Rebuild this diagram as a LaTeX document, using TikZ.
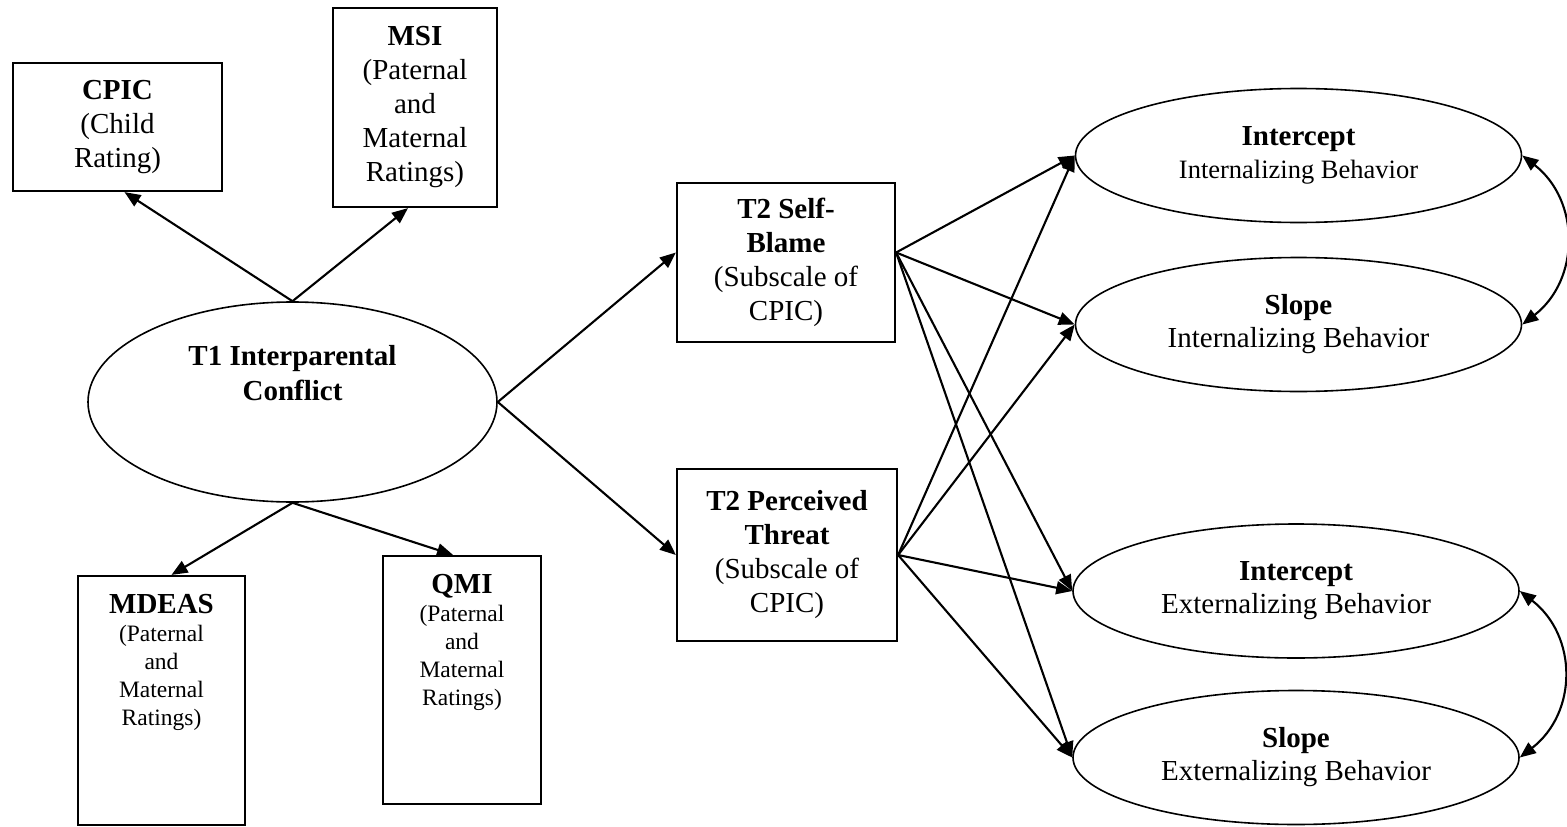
\documentclass[tikz,border=0pt]{standalone}
\usepackage{fontspec}
\setmainfont{Liberation Serif}
\usetikzlibrary{shapes.geometric, arrows.meta, positioning}
\tikzstyle{diagram} = [x = 1pt, y = -1pt]
\tikzstyle{measureBox} = [draw, line width = 2.2pt, inner sep = 0pt, align = center, font = \fontsize{29}{34}\selectfont]
\tikzstyle{tallBox} = [draw, line width = 2.2pt, inner sep = 0pt]
\tikzstyle{latentEllipse} = [draw, ellipse, line width = 1.6pt, inner sep = 0pt, minimum width = 446pt, minimum height = 134pt, align = center, font = \fontsize{29}{33}\selectfont]
\tikzstyle{pathArrow} = [-{Triangle[length = 16pt, width = 13pt]}, line width = 2.1pt]
\tikzstyle{covArrow} = [{Triangle[length = 16pt, width = 13pt]}-{Triangle[length = 16pt, width = 13pt]}, line width = 2.1pt]
\newcommand{\ratingBox}[3]{\parbox[c][#2][t]{#3}{\centering\fontsize{23.5}{28}\selectfont\rule{0pt}{37pt}{\fontsize{29}{28}\selectfont\bfseries #1}\\(Paternal\\and\\Maternal\\Ratings)}}

\begin{document}
\begin{tikzpicture}[diagram]
  \useasboundingbox (0,0) rectangle (1567,827);
  \node [measureBox, minimum width = 209pt, minimum height = 128pt] (cpic) at (117.5,127) {\textbf{CPIC}\\(Child\\Rating)};
  \node [measureBox, minimum width = 164pt, minimum height = 199pt] (msi) at (415,107.5) {\textbf{MSI}\\(Paternal\\and\\Maternal\\Ratings)};
  \node [tallBox] (mdeas) at (161.5,700.5) {\ratingBox{MDEAS}{249pt}{167pt}};
  \node [tallBox] (qmi) at (462,680) {\ratingBox{QMI}{248pt}{158pt}};
  \node [latentEllipse, minimum width = 409pt, minimum height = 200pt] (conflict) at (292.5,402) {};
  \node [font = \fontsize{29}{35}\selectfont\bfseries, align = center] (conflictText) at ([yshift = 29pt]conflict.center) {T1 Interparental\\Conflict};

  \node [measureBox, minimum width = 218pt, minimum height = 159pt] (selfBlame) at (786,262.5) {\textbf{T2 Self-}\\\textbf{Blame}\\(Subscale of\\CPIC)};
  \node [measureBox, minimum width = 220pt, minimum height = 172pt] (threat) at (787,555) {\textbf{T2 Perceived}\\\textbf{Threat}\\(Subscale of\\CPIC)};

  \node [latentEllipse] (intIntercept) at (1298.5,155.5) {\textbf{Intercept}\\{\fontsize{26.5}{33}\selectfont Internalizing Behavior}};
  \node [latentEllipse] (intSlope) at (1298.5,324.5) {\textbf{Slope}\\Internalizing Behavior};
  \node [latentEllipse] (extIntercept) at (1296,591) {\textbf{Intercept}\\Externalizing Behavior};
  \node [latentEllipse] (extSlope) at (1296,757.5) {\textbf{Slope}\\Externalizing Behavior};

  \draw [pathArrow] (conflict.north) -- ([xshift = 7pt]cpic.south);
  \draw [pathArrow] (conflict.north) -- ([xshift = -7pt]msi.south);
  \draw [pathArrow] (conflict.south) -- ([xshift = 10pt]mdeas.north);
  \draw [pathArrow] (conflict.south) -- ([xshift = -9pt]qmi.north);
  \draw [pathArrow] (conflict.east) -- ([yshift = 10pt]selfBlame.west);
  \draw [pathArrow] (conflict.east) -- (threat.west);
  \foreach \source/\lift in {selfBlame/10pt, threat/0pt} {
    \foreach \target in {intIntercept, intSlope, extIntercept, extSlope} {
      \draw [pathArrow] ([yshift = \lift]\source.east) -- (\target.west);
    }
  }
  \draw [covArrow] (intIntercept.east) .. controls +(58,45) and +(58,-45) .. (intSlope.east);
  \draw [covArrow] (extIntercept.east) .. controls +(58,45) and +(58,-45) .. (extSlope.east);
\end{tikzpicture}
\end{document}
